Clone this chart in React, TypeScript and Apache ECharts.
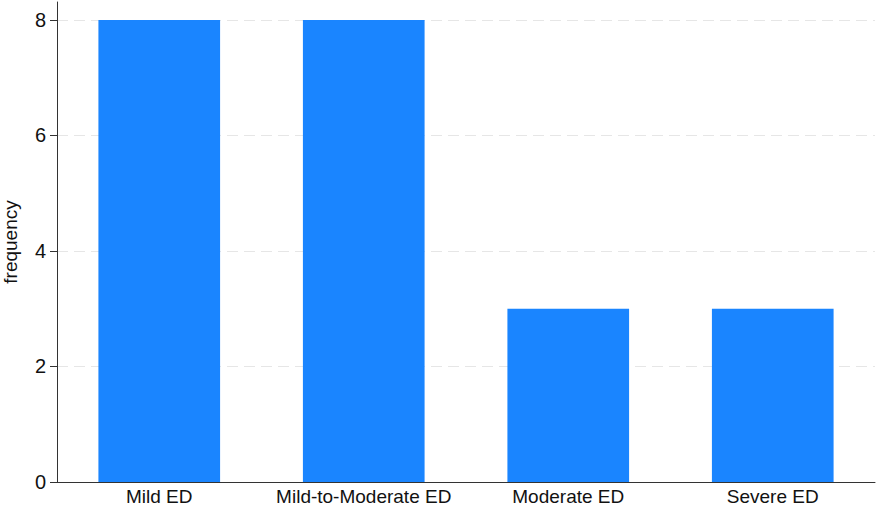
import React, { useEffect, useRef } from "react";
import * as echarts from "echarts";

const categories = ["Mild ED", "Mild-to-Moderate ED", "Moderate ED", "Severe ED"];
const frequency = [8, 8, 3, 3];
const yTicks = [0, 2, 4, 6, 8];

export default function App() {
  const ref = useRef<HTMLDivElement>(null);
  useEffect(() => {
    document.body.style.margin = "0";
    if (!ref.current) return;
    const chart = echarts.init(ref.current, null, { renderer: "svg" });
    const font = "Liberation Sans, Helvetica, Arial, sans-serif";
    chart.setOption({
      animation: false,
      backgroundColor: "#ffffff",
      grid: { left: 57, right: 3, top: 2, bottom: 25, containLabel: false, outerBoundsMode: "none" },
      xAxis: {
        type: "category",
        data: categories,
        axisLine: { show: true, lineStyle: { color: "#333333", width: 1 } },
        axisTick: { show: false },
        axisLabel: { color: "#111111", fontSize: 19, fontFamily: font, margin: 5, interval: 0 },
        splitLine: { show: false },
      },
      yAxis: {
        type: "value",
        min: 0,
        max: 8.31,
        name: "frequency",
        nameLocation: "middle",
        nameGap: 37,
        nameTextStyle: { color: "#111111", fontSize: 19, fontFamily: font },
        axisLine: { show: true, lineStyle: { color: "#333333", width: 1 } },
        axisTick: { show: true, length: 7, customValues: yTicks, lineStyle: { color: "#333333" } },
        axisLabel: { color: "#111111", fontSize: 20, fontFamily: font, margin: 11, customValues: yTicks },
        splitLine: { show: true, lineStyle: { color: "#e6e6e6", type: [11, 6], width: 1 } },
      },
      series: [
        {
          type: "bar",
          data: frequency,
          barWidth: "59.5%",
          itemStyle: { color: "#1a85ff" },
        },
      ],
    });
    return () => chart.dispose();
  }, []);
  return <div ref={ref} style={{ width: 878, height: 507, position: "absolute", left: 0, top: 0 }} />;
}
